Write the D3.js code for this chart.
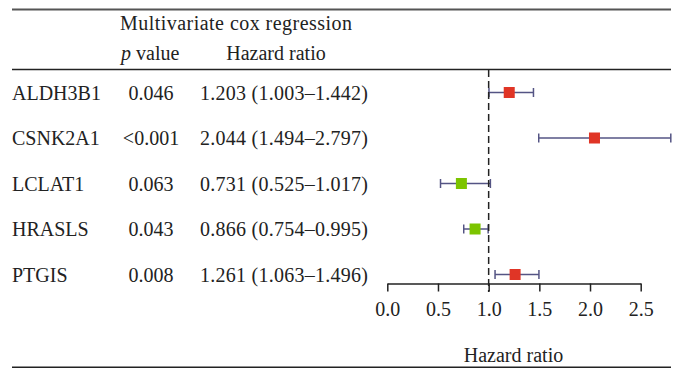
<!DOCTYPE html>
<html>
<head>
<meta charset="utf-8">
<script src="https://cdn.jsdelivr.net/npm/d3@7"></script>
<style>
  body { margin: 0; background: #fff; }
  text { font-family: "Liberation Serif", "DejaVu Serif", serif; fill: #222; }
</style>
</head>
<body>
<svg id="chart" width="674" height="368"></svg>
<script>
// data
let genes = ['ALDH3B1', 'CSNK2A1', 'LCLAT1', 'HRASLS', 'PTGIS'];
let pValues = ['0.046', '<0.001', '0.063', '0.043', '0.008'];
let hr = [1.203, 2.044, 0.731, 0.866, 1.261];
let lower = [1.003, 1.494, 0.525, 0.754, 1.063];
let upper = [1.442, 2.797, 1.017, 0.995, 1.496];
let ticks = [0, 0.5, 1, 1.5, 2, 2.5];

let rows = genes.map((g, i) => ({
  gene: g, p: pValues[i], hr: hr[i], lo: lower[i], hi: upper[i]
}));

let svg = d3.select('#chart');
let fs = '20px';

let x = d3.scaleLinear()
  .domain([0, 2.5])
  .range([387.3, 640.7]);

let y = d3.scaleBand()
  .domain(genes)
  .range([69.75, 297.25]);

let yc = (g) => y(g) + y.bandwidth() / 2;

// rules
svg.append('line')
  .attr('x1', 12).attr('x2', 671).attr('y1', 9.5).attr('y2', 9.5)
  .attr('stroke', '#555').attr('stroke-width', 2);
svg.append('line')
  .attr('x1', 12).attr('x2', 671).attr('y1', 69.5).attr('y2', 69.5)
  .attr('stroke', '#222').attr('stroke-width', 1.5);
svg.append('line')
  .attr('x1', 12).attr('x2', 671).attr('y1', 367.2).attr('y2', 367.2)
  .attr('stroke', '#222').attr('stroke-width', 1.5);

// headers
svg.append('text')
  .attr('x', 120).attr('y', 23).attr('dy', '0.35em')
  .style('font-size', fs)
  .attr('textLength', 232)
  .text('Multivariate cox regression');

let ph = svg.append('text')
  .attr('x', 121).attr('y', 53).attr('dy', '0.35em')
  .style('font-size', fs);
ph.append('tspan').style('font-style', 'italic').text('p');
ph.append('tspan').text(' value');

svg.append('text')
  .attr('x', 276).attr('y', 53).attr('dy', '0.35em')
  .attr('text-anchor', 'middle')
  .style('font-size', fs)
  .text('Hazard ratio');

// table rows
let tr = svg.selectAll('g.row')
  .data(rows)
  .enter()
  .append('g')
  .attr('class', 'row')
  .attr('transform', (d) => `translate(0,${yc(d.gene)})`);

tr.append('text')
  .attr('x', 12).attr('dy', '0.35em')
  .style('font-size', fs)
  .text((d) => d.gene);

tr.append('text')
  .attr('x', 151).attr('dy', '0.35em')
  .attr('text-anchor', 'middle')
  .style('font-size', fs)
  .text((d) => d.p);

tr.append('text')
  .attr('x', 200).attr('dy', '0.35em')
  .attr('textLength', 168)
  .style('font-size', fs)
  .text((d) => `${d.hr.toFixed(3)} (${d.lo.toFixed(3)}\u2013${d.hi.toFixed(3)})`);

// reference line at HR = 1
svg.append('line')
  .attr('x1', x(1)).attr('x2', x(1))
  .attr('y1', 70).attr('y2', 292)
  .attr('stroke', '#222').attr('stroke-width', 1.5)
  .attr('stroke-dasharray', '7,4');

// error bars
let ebColor = '#545484';
let cap = 4.5;

tr.append('line')
  .attr('x1', (d) => x(d.lo)).attr('x2', (d) => x(d.hi))
  .attr('stroke', ebColor).attr('stroke-width', 1.5);
tr.append('line')
  .attr('x1', (d) => x(d.lo)).attr('x2', (d) => x(d.lo))
  .attr('y1', -cap).attr('y2', cap)
  .attr('stroke', ebColor).attr('stroke-width', 1.5);
tr.append('line')
  .attr('x1', (d) => x(d.hi)).attr('x2', (d) => x(d.hi))
  .attr('y1', -cap).attr('y2', cap)
  .attr('stroke', ebColor).attr('stroke-width', 1.5);

let sq = 11;
tr.append('rect')
  .attr('x', (d) => x(d.hr) - sq / 2)
  .attr('y', -sq / 2)
  .attr('width', sq).attr('height', sq)
  .attr('fill', (d) => d.hr > 1 ? '#e03526' : '#7cc400');

// axis
let axis = svg.append('g')
  .attr('transform', 'translate(0,283.5)')
  .call(d3.axisBottom(x)
    .tickValues(ticks)
    .tickSize(8)
    .tickSizeOuter(0)
    .tickPadding(10)
    .tickFormat(d3.format('.1f')));

axis.select('.domain').attr('stroke', '#222').attr('stroke-width', 1.5);
axis.selectAll('.tick line').attr('stroke', '#222').attr('stroke-width', 1.5);
axis.selectAll('.tick text')
  .style('font-size', fs)
  .style('font-family', '"Liberation Serif", serif')
  .attr('fill', '#222');

svg.append('text')
  .attr('x', 513.5).attr('y', 355).attr('dy', '0.35em')
  .attr('text-anchor', 'middle')
  .style('font-size', fs)
  .text('Hazard ratio');
</script>
</body>
</html>
